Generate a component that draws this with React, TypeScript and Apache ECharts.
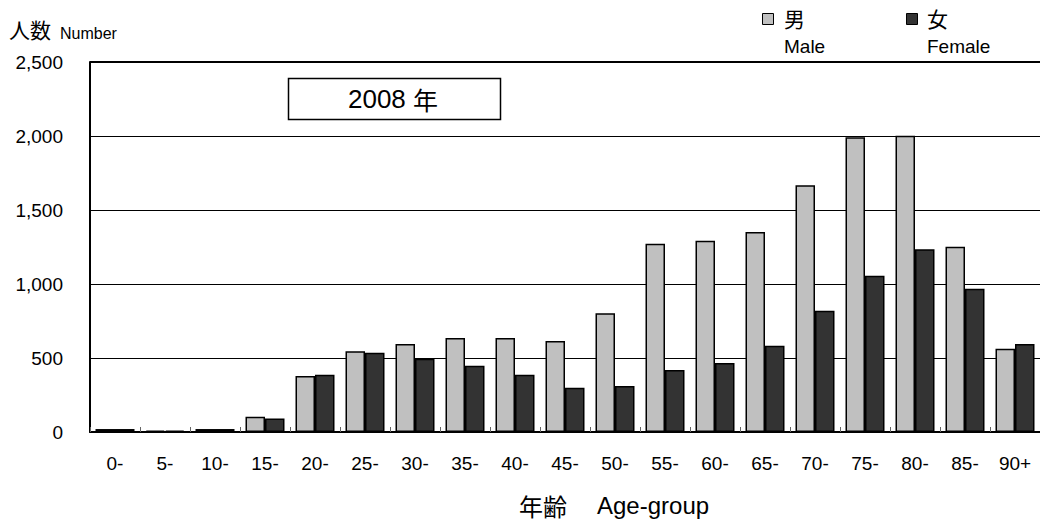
import React, { useEffect, useRef } from "react";
import * as echarts from "echarts";

const categories = ["0-", "5-", "10-", "15-", "20-", "25-", "30-", "35-", "40-", "45-", "50-", "55-", "60-", "65-", "70-", "75-", "80-", "85-", "90+"];
const maleValues = [20, 10, 20, 103, 378, 545, 595, 635, 635, 615, 802, 1272, 1293, 1351, 1667, 1991, 2002, 1252, 563];
const femaleValues = [20, 10, 20, 92, 387, 536, 495, 448, 387, 299, 311, 419, 466, 583, 820, 1056, 1234, 968, 595];
const yTicks = [0, 500, 1000, 1500, 2000, 2500];
const titleYear = "2008";
const titleUnit = "年";

const JP = '"Noto Sans CJK JP", "Liberation Sans", sans-serif';
const LAT = '"Liberation Sans", Arial, sans-serif';

export default function App() {
  const ref = useRef<HTMLDivElement>(null);
  useEffect(() => {
    if (!ref.current) return;
    const chart = echarts.init(ref.current, null, { renderer: "svg" });
    chart.setOption({
      animation: false,
      backgroundColor: "#ffffff",
      grid: { left: 90, top: 62, width: 957, height: 370, show: false },
      xAxis: {
        type: "category",
        data: categories,
        axisLine: { show: true, lineStyle: { color: "#000", width: 2 } },
        axisTick: { show: true, inside: true, length: 5, alignWithLabel: false, lineStyle: { color: "#666", width: 1 } },
        axisLabel: { color: "#000", fontSize: 19, fontFamily: LAT, margin: 22, interval: 0 },
        splitLine: { show: false },
      },
      yAxis: {
        type: "value",
        min: 0,
        max: 2500,
        interval: 500,
        axisLine: { show: true, lineStyle: { color: "#000", width: 2 } },
        axisTick: { show: true, inside: true, length: 7, lineStyle: { color: "#000" } },
        axisLabel: {
          color: "#000",
          fontSize: 19,
          fontFamily: LAT,
          margin: 27,
          formatter: (v: number) => (yTicks.includes(v) ? v.toLocaleString("en-US") : ""),
        },
        splitLine: { show: true, lineStyle: { color: "#000", width: 1 } },
      },
      series: [
        {
          name: "男",
          type: "bar",
          data: maleValues,
          barGap: "0%",
          barCategoryGap: "22%",
          itemStyle: { color: "#c0c0c0", borderColor: "#000", borderWidth: 1.5 },
        },
        {
          name: "女",
          type: "bar",
          data: femaleValues,
          barGap: "0%",
          barCategoryGap: "22%",
          itemStyle: { color: "#333333", borderColor: "#000", borderWidth: 1.5 },
        },
      ],
      graphic: [
        { type: "line", shape: { x1: 90, y1: 62, x2: 1040, y2: 62 }, style: { stroke: "#000", lineWidth: 2 }, z: 10 },
        { type: "text", x: 9, y: 29, style: { text: "人数", fontSize: 21, fontFamily: JP, fill: "#000", verticalAlign: "middle" } },
        { type: "text", x: 60, y: 41, style: { text: "Number", fontSize: 16, fontFamily: LAT, fill: "#000", verticalAlign: "bottom" } },
        { type: "rect", shape: { x: 288.5, y: 78.5, width: 212, height: 41 }, style: { fill: "#fff", stroke: "#000", lineWidth: 1.5 }, z: 10 },
        {
          type: "text",
          x: 393,
          y: 99,
          z: 11,
          style: {
            text: "{d|" + titleYear + " }{u|" + titleUnit + "}",
            align: "center",
            verticalAlign: "middle",
            rich: {
              d: { fontSize: 26, fontFamily: LAT, fill: "#000" },
              u: { fontSize: 25, fontFamily: JP, fill: "#000" },
            },
          },
        },
        { type: "rect", shape: { x: 762.5, y: 13.5, width: 11, height: 11 }, style: { fill: "#c0c0c0", stroke: "#000", lineWidth: 1 } },
        { type: "text", x: 784, y: 18, style: { text: "男", fontSize: 21, fontFamily: JP, fill: "#000", verticalAlign: "middle" } },
        { type: "text", x: 784, y: 46, style: { text: "Male", fontSize: 19, fontFamily: LAT, fill: "#000", verticalAlign: "middle" } },
        { type: "rect", shape: { x: 906.5, y: 13.5, width: 11, height: 11 }, style: { fill: "#333333", stroke: "#000", lineWidth: 1 } },
        { type: "text", x: 927, y: 18, style: { text: "女", fontSize: 21, fontFamily: JP, fill: "#000", verticalAlign: "middle" } },
        { type: "text", x: 927, y: 46, style: { text: "Female", fontSize: 19, fontFamily: LAT, fill: "#000", verticalAlign: "middle" } },
        { type: "text", x: 519, y: 505, style: { text: "年齢", fontSize: 24, fontFamily: JP, fill: "#000", verticalAlign: "middle" } },
        { type: "text", x: 597, y: 505, style: { text: "Age-group", fontSize: 24, fontFamily: LAT, fill: "#000", verticalAlign: "middle" } },
      ],
    });
    return () => chart.dispose();
  }, []);
  return <div ref={ref} style={{ position: "fixed", left: 0, top: 0, width: 1040, height: 524 }} />;
}
